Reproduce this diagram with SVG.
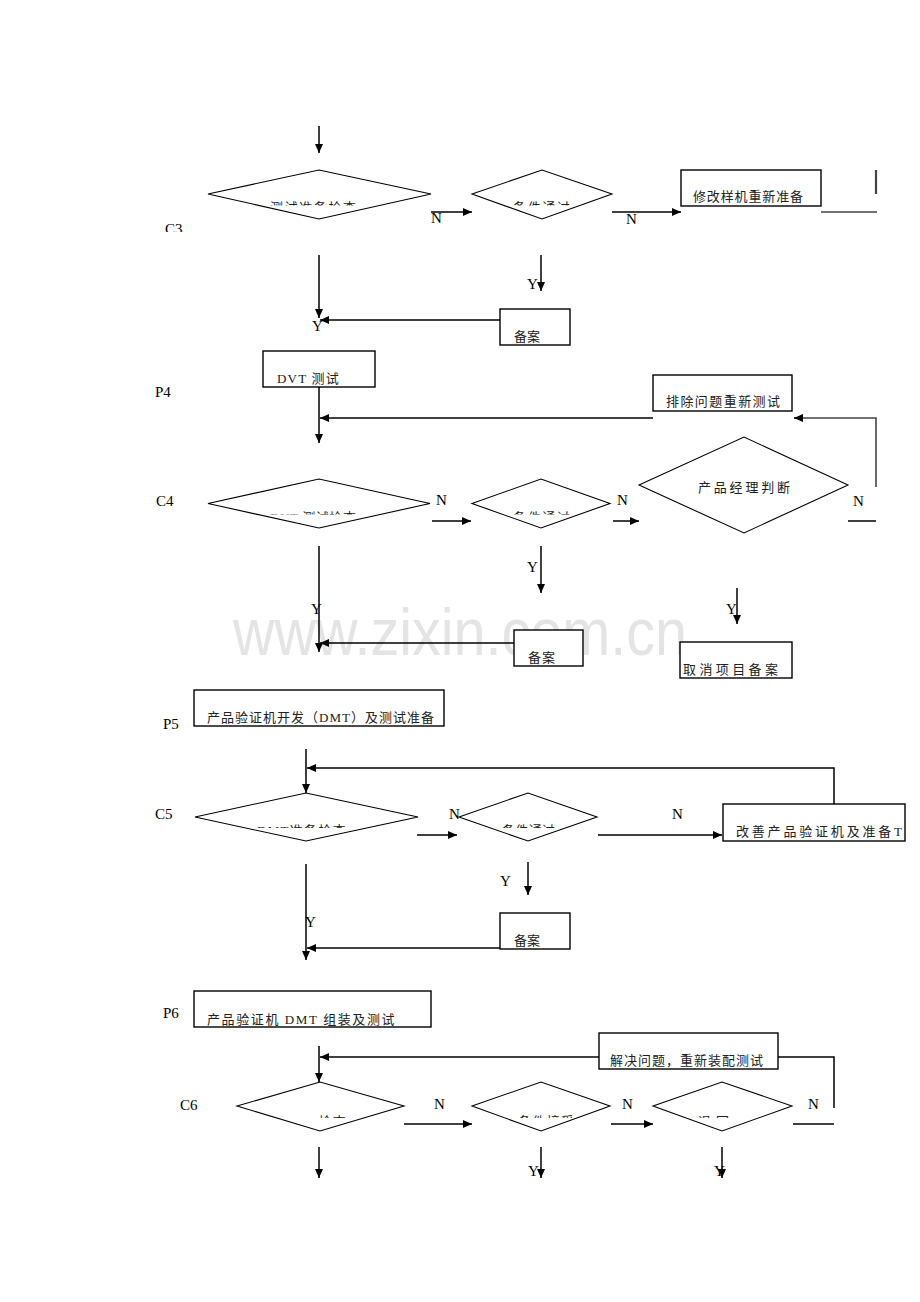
<svg xmlns="http://www.w3.org/2000/svg" width="920" height="1302" viewBox="0 0 920 1302">
<style>
.bg{fill:#fff}
.box{fill:#fff;stroke:#000;stroke-width:1.4}
.dia{fill:#fff;stroke:#000;stroke-width:1.1}
.ln{fill:none;stroke:#000;stroke-width:1.5}
.lg{fill:none;stroke:#444;stroke-width:1.6}
.arr{fill:none;stroke:#000;stroke-width:1.5;marker-end:url(#ah)}
.cjk{font-family:"Liberation Serif","Noto Sans CJK SC",serif;font-size:13px;fill:#222}
.lab{font-family:"Liberation Serif",serif;font-size:15px;fill:#000}
.wm{font-family:"Liberation Sans",sans-serif;font-size:66px;fill:#e4e4e4}
</style>
<defs>
<marker id="ah" markerUnits="userSpaceOnUse" markerWidth="10" markerHeight="8" refX="9" refY="4" orient="auto">
<path d="M0,0 L9,4 L0,8 z" fill="#000"/>
</marker>
<clipPath id="cp1"><rect x="200" y="194" width="240" height="11.5"/></clipPath>
<clipPath id="cp2"><rect x="470" y="194" width="140" height="11.5"/></clipPath>
<clipPath id="cp3"><rect x="200" y="503" width="240" height="11.5"/></clipPath>
<clipPath id="cp4"><rect x="470" y="503" width="140" height="11.5"/></clipPath>
<clipPath id="cp5"><rect x="190" y="817" width="240" height="11"/></clipPath>
<clipPath id="cp6"><rect x="455" y="817" width="140" height="11"/></clipPath>
<clipPath id="cp7"><rect x="230" y="1106" width="180" height="12"/></clipPath>
<clipPath id="cp8"><rect x="470" y="1106" width="140" height="12"/></clipPath>
<clipPath id="cp9"><rect x="650" y="1106" width="140" height="12"/></clipPath>
<clipPath id="cpC3"><rect x="150" y="215" width="40" height="17"/></clipPath>
</defs>
<rect class="bg" x="0" y="0" width="920" height="1302"/>

<text class="wm" x="233" y="655" textLength="454" lengthAdjust="spacingAndGlyphs">www.zixin.com.cn</text>

<g id="labels">
<text class="lab" x="165" y="234" clip-path="url(#cpC3)">C3</text>
<text class="lab" x="155" y="397">P4</text>
<text class="lab" x="156" y="506">C4</text>
<text class="lab" x="163" y="729">P5</text>
<text class="lab" x="155" y="819">C5</text>
<text class="lab" x="163" y="1018">P6</text>
<text class="lab" x="180" y="1110">C6</text>
</g>

<g id="connectors">
<line class="arr" x1="319" y1="126" x2="319" y2="153"/>
<line class="arr" x1="431" y1="212" x2="472" y2="212"/>
<line class="arr" x1="612" y1="212" x2="681" y2="212"/>
<line class="lg" x1="821" y1="212" x2="877" y2="212"/>
<line x1="876" y1="170" x2="876" y2="194" stroke="#444" stroke-width="2.2"/>
<line class="arr" x1="319" y1="255" x2="319" y2="318"/>
<line class="arr" x1="541" y1="255" x2="541" y2="291"/>
<line class="arr" x1="500" y1="320" x2="320" y2="320"/>
<line class="arr" x1="319" y1="387" x2="319" y2="443"/>
<line class="arr" x1="653" y1="418" x2="320" y2="418"/>
<polyline class="lg" points="876,487 876,418 800,418"/>
<line class="arr" x1="800" y1="418" x2="794" y2="418"/>
<line class="arr" x1="432" y1="521" x2="471" y2="521"/>
<line class="arr" x1="613" y1="521" x2="639" y2="521"/>
<line class="ln" x1="848" y1="521" x2="876" y2="521"/>
<line class="arr" x1="319" y1="546" x2="319" y2="652"/>
<line class="arr" x1="514" y1="643" x2="320" y2="643"/>
<line class="arr" x1="541" y1="546" x2="541" y2="593"/>
<line class="arr" x1="737" y1="588" x2="737" y2="624"/>
<line class="arr" x1="306" y1="749" x2="306" y2="793"/>
<polyline class="ln" points="834,805 834,768 320,768"/>
<line class="arr" x1="320" y1="768" x2="307" y2="768"/>
<line class="arr" x1="417" y1="835" x2="457" y2="835"/>
<line class="arr" x1="598" y1="835" x2="722" y2="835"/>
<line class="arr" x1="306" y1="864" x2="306" y2="960"/>
<line class="arr" x1="528" y1="862" x2="528" y2="895"/>
<line class="arr" x1="500" y1="948" x2="307" y2="948"/>
<line class="arr" x1="319" y1="1046" x2="319" y2="1082"/>
<line class="arr" x1="599" y1="1057" x2="320" y2="1057"/>
<polyline class="ln" points="778,1057 834,1057 834,1108"/>
<line class="arr" x1="404" y1="1124" x2="472" y2="1124"/>
<line class="arr" x1="611" y1="1124" x2="653" y2="1124"/>
<line class="ln" x1="793" y1="1124" x2="834" y2="1124"/>
<line class="arr" x1="319" y1="1147" x2="319" y2="1178"/>
<line class="arr" x1="541" y1="1147" x2="541" y2="1178"/>
<line class="arr" x1="722" y1="1147" x2="722" y2="1178"/>
</g>

<g id="edge-labels">
<text class="lab" x="431" y="223">N</text>
<text class="lab" x="626" y="224">N</text>
<text class="lab" x="312" y="331">Y</text>
<text class="lab" x="527" y="289">Y</text>
<text class="lab" x="436" y="505">N</text>
<text class="lab" x="617" y="505">N</text>
<text class="lab" x="853" y="506">N</text>
<text class="lab" x="311" y="614">Y</text>
<text class="lab" x="527" y="572">Y</text>
<text class="lab" x="726" y="614">Y</text>
<text class="lab" x="449" y="819">N</text>
<text class="lab" x="672" y="819">N</text>
<text class="lab" x="305" y="927">Y</text>
<text class="lab" x="500" y="886">Y</text>
<text class="lab" x="434" y="1109">N</text>
<text class="lab" x="622" y="1109">N</text>
<text class="lab" x="808" y="1109">N</text>
<text class="lab" x="528" y="1176">Y</text>
<text class="lab" x="714" y="1176">Y</text>
</g>

<g id="c3-check">
<polygon class="dia" points="208,194 319,170 431,194 319,219"/>
<text class="cjk" x="270" y="212" textLength="86" clip-path="url(#cp1)">测试准备检查</text>
</g>
<g id="c3-cond">
<polygon class="dia" points="472,194 542,170 612,194 542,219"/>
<text class="cjk" x="513" y="212" textLength="57" clip-path="url(#cp2)">条件通过</text>
</g>
<g id="c3-modify">
<rect class="box" x="681" y="170" width="140" height="36"/>
<text class="cjk" x="693" y="201" textLength="110">修改样机重新准备</text>
</g>
<g id="c3-record">
<rect class="box" x="500" y="309" width="70" height="36"/>
<text class="cjk" x="514" y="341" textLength="26">备案</text>
</g>

<g id="p4-dvt">
<rect class="box" x="263" y="351" width="112" height="36"/>
<text class="cjk" x="277" y="383" letter-spacing="1.2">DVT 测试</text>
</g>
<g id="p4-fix">
<rect class="box" x="653" y="375" width="139" height="36"/>
<text class="cjk" x="666" y="406" textLength="114">排除问题重新测试</text>
</g>
<g id="c4-check">
<polygon class="dia" points="208,503.5 319,479 430,503.5 319,528"/>
<text class="cjk" x="270" y="521.5" letter-spacing="0.6" clip-path="url(#cp3)">DVT 测试检查</text>
</g>
<g id="c4-cond">
<polygon class="dia" points="472,503.5 541,479 610,503.5 541,528"/>
<text class="cjk" x="513" y="521.5" textLength="57" clip-path="url(#cp4)">条件通过</text>
</g>
<g id="c4-pm">
<polygon class="dia" points="639,485 744,437 848,485 744,533"/>
<text class="cjk" x="698" y="492" textLength="92">产品经理判断</text>
</g>
<g id="c4-record">
<rect class="box" x="514" y="630" width="69" height="36"/>
<text class="cjk" x="528" y="662" textLength="27">备案</text>
</g>
<g id="c4-cancel">
<rect class="box" x="680" y="642" width="112" height="36"/>
<text class="cjk" x="683" y="674" textLength="95">取消项目备案</text>
</g>

<g id="p5-dmt">
<rect class="box" x="194" y="690" width="250" height="36"/>
<text class="cjk" x="207" y="722" letter-spacing="1">产品验证机开发（DMT）及测试准备</text>
</g>
<g id="c5-check">
<polygon class="dia" points="195,817 306,793 418,817 306,841"/>
<text class="cjk" x="257" y="835" letter-spacing="1.3" clip-path="url(#cp5)">DMT准备检查</text>
</g>
<g id="c5-cond">
<polygon class="dia" points="459,817 528,793 597,817 528,841"/>
<text class="cjk" x="502" y="835" textLength="53" clip-path="url(#cp6)">条件通过</text>
</g>
<g id="c5-improve">
<rect class="box" x="723" y="804" width="182" height="37"/>
<text class="cjk" x="736" y="836" textLength="166">改善产品验证机及准备T</text>
</g>
<g id="c5-record">
<rect class="box" x="500" y="913" width="70" height="36"/>
<text class="cjk" x="514" y="945" textLength="26">备案</text>
</g>

<g id="p6-assembly">
<rect class="box" x="194" y="991" width="237" height="36"/>
<text class="cjk" x="207" y="1024" letter-spacing="1.6">产品验证机 DMT 组装及测试</text>
</g>
<g id="c6-fix">
<rect class="box" x="599" y="1033" width="179" height="36"/>
<text class="cjk" x="610" y="1065" textLength="153">解决问题，重新装配测试</text>
</g>
<g id="c6-check">
<polygon class="dia" points="237,1106 320,1082 404,1106 320,1131"/>
<text class="cjk" x="286" y="1126" letter-spacing="1.2" clip-path="url(#cp7)">DMT检查</text>
</g>
<g id="c6-accept">
<polygon class="dia" points="472,1106 541,1082 610,1106 541,1131"/>
<text class="cjk" x="518" y="1126" textLength="56" clip-path="url(#cp8)">条件接受</text>
</g>
<g id="c6-return">
<polygon class="dia" points="653,1106 722,1082 792,1106 722,1131"/>
<text class="cjk" x="698" y="1126" textLength="31" clip-path="url(#cp9)">退回</text>
</g>
</svg>
